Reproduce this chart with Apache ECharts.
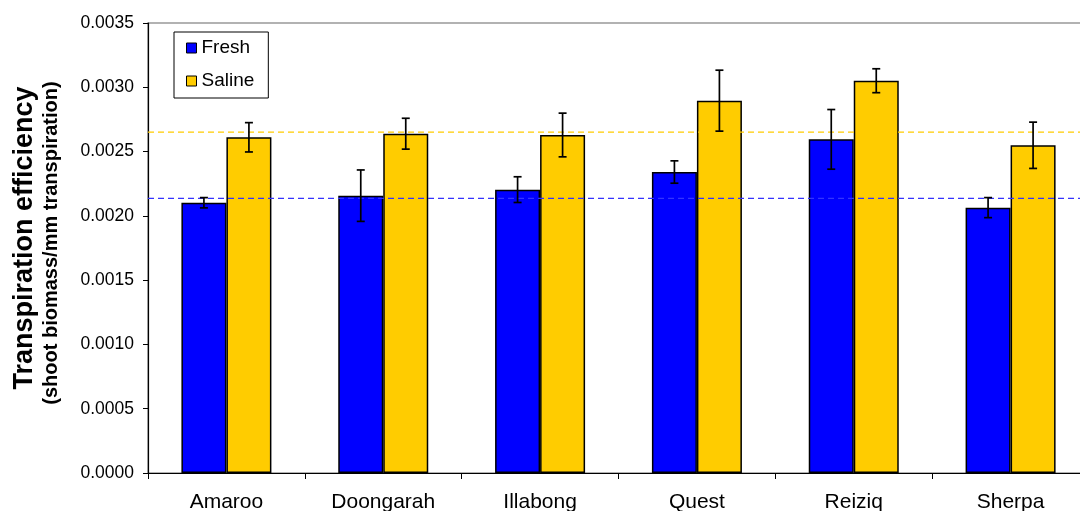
<!DOCTYPE html>
<html><head><meta charset="utf-8">
<script src="https://cdn.jsdelivr.net/npm/echarts@6/dist/echarts.min.js"></script>
<style>html,body{margin:0;padding:0;background:#fff}#c{width:1080px;height:511px}</style>
</head><body><div id="c"></div>
<script>
const categories = ['Amaroo','Doongarah','Illabong','Quest','Reiziq','Sherpa'];
const freshValues = [0.002102,0.002157,0.002204,0.002341,0.002595,0.002064];
const freshErrors = [0.00004,0.0002,0.0001,0.000087,0.000232,0.000078];
const salineValues = [0.002611,0.002639,0.002629,0.002896,0.003051,0.002549];
const salineErrors = [0.000114,0.00012,0.00017,0.000237,0.000093,0.00018];
const freshMean = 0.002136;
const salineMean = 0.002652;
const yTicks = {min:0, max:0.0035, interval:0.0005};

const FONT = 'Liberation Sans, Arial, sans-serif';
const BAR_W = 45;

function errSeries(name, vals, errs, offset) {
  return {
    type:'custom', name: name + ' err', silent:true, z:5,
    data: vals.map((v,i)=>[i, v - errs[i], v + errs[i]]),
    renderItem: function(params, api){
      const lo = api.coord([api.value(0), api.value(1)]);
      const hi = api.coord([api.value(0), api.value(2)]);
      const x = lo[0] + offset;
      const cap = 4;
      const st = {stroke:'#000', lineWidth:1.7};
      return {type:'group', children:[
        {type:'line', shape:{x1:x,y1:lo[1],x2:x,y2:hi[1]}, style:st},
        {type:'line', shape:{x1:x-cap,y1:lo[1],x2:x+cap,y2:lo[1]}, style:st},
        {type:'line', shape:{x1:x-cap,y1:hi[1],x2:x+cap,y2:hi[1]}, style:st}
      ]};
    }
  };
}

function meanLine(name, value, color) {
  return {
    type:'custom', name: name + ' mean', silent:true, z:3,
    data:[[0, value]],
    renderItem: function(params, api){
      const cs = params.coordSys;
      const y = api.coord([0, api.value(1)])[1];
      return {type:'line', shape:{x1:cs.x, y1:y, x2:cs.x+cs.width, y2:y},
        style:{stroke:color, lineWidth:1.3, lineDash:[6,4]}};
    }
  };
}

const chart = echarts.init(document.getElementById('c'), null, {renderer:'canvas'});
chart.setOption({
  animation:false,
  textStyle:{fontFamily:FONT},
  grid:{left:148, top:23, width:941, height:450, outerBoundsMode:'none', containLabel:false,
        show:true, borderColor:'#999', borderWidth:1.6, backgroundColor:'transparent'},
  legend:{
    left:174, top:32, orient:'vertical',
    data:['Fresh','Saline'],
    icon:'rect', itemWidth:10, itemHeight:10, itemGap:13,
    itemStyle:{borderColor:'#000', borderWidth:1},
    textStyle:{fontSize:19, color:'#000', fontFamily:FONT, lineHeight:20},
    borderColor:'#000', borderWidth:1, padding:[6,14,7,12], backgroundColor:'#fff'
  },
  xAxis:{
    type:'category', data:categories,
    axisLine:{lineStyle:{color:'#000', width:1.2}},
    axisTick:{show:true, length:6, lineStyle:{color:'#000'}},
    axisLabel:{color:'#000', fontSize:21, margin:19, fontFamily:FONT}
  },
  yAxis:{
    type:'value', min:yTicks.min, max:yTicks.max, interval:yTicks.interval,
    axisLine:{show:true, lineStyle:{color:'#000', width:1.2}},
    axisTick:{show:true, length:5, lineStyle:{color:'#000'}},
    splitLine:{show:false},
    axisLabel:{color:'#000', fontSize:17.5, margin:14, fontFamily:FONT, formatter:v=>v.toFixed(4)}
  },
  graphic:[
    {type:'text', x:25, y:238, rotation:Math.PI/2,
     style:{text:'Transpiration efficiency', font:'bold 27px '+FONT, fill:'#000', align:'center', verticalAlign:'middle'}},
    {type:'text', x:51, y:243, rotation:Math.PI/2,
     style:{text:'(shoot biomass/mm transpiration)', font:'bold 20px '+FONT, fill:'#000', align:'center', verticalAlign:'middle'}}
  ],
  series:[
    {name:'Fresh', type:'bar', data:freshValues, barWidth:BAR_W, barGap:'0%',
     itemStyle:{color:'#0000FF', borderColor:'#000', borderWidth:1.5}},
    {name:'Saline', type:'bar', data:salineValues, barWidth:BAR_W, barGap:'0%',
     itemStyle:{color:'#FFCC00', borderColor:'#000', borderWidth:1.5}},
    meanLine('Fresh', freshMean, '#3333FF'),
    meanLine('Saline', salineMean, '#FFCC00'),
    errSeries('Fresh', freshValues, freshErrors, -BAR_W/2),
    errSeries('Saline', salineValues, salineErrors, BAR_W/2)
  ]
});
</script></body></html>
